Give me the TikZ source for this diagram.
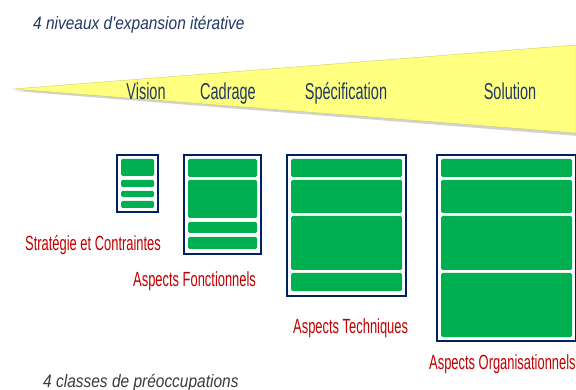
\documentclass[tikz,border=0pt]{standalone}
\usepackage{fontspec}
\setmainfont[FakeStretch=0.63]{Liberation Sans}
\newfontfamily\capfont[FakeStretch=0.86]{Liberation Sans}
\definecolor{navytxt}{HTML}{1F3864}
\definecolor{boxnavy}{HTML}{002060}
\definecolor{rowgreen}{HTML}{00B050}
\definecolor{redtxt}{HTML}{C00000}
\definecolor{wedgeyellow}{HTML}{FFFF80}
\definecolor{captioncol}{HTML}{3A3A3A}
\begin{document}
\begin{tikzpicture}[x=1pt,y=-1pt,
  lvl/.style={anchor=base,inner sep=0pt,text=navytxt,font=\fontsize{23}{23}\selectfont},
  concern/.style={anchor=base west,inner sep=0pt,text=redtxt,font=\fontsize{20.5}{20.5}\selectfont},
  captxt/.style={anchor=base west,inner sep=0pt,font=\capfont\itshape\fontsize{18}{18}\selectfont},
  frame/.style={draw=boxnavy,line width=2.6pt,fill=white},
  row/.style={fill=rowgreen,rounded corners=1.5pt}]
\useasboundingbox (0,0) rectangle (576,390);
% wedge
\fill[black!35,opacity=0.5] (15,91) -- (578,47) -- (578,136) -- cycle;
\fill[wedgeyellow,draw=wedgeyellow!80!black,line width=0.4pt] (13,89) -- (576,45) -- (576,133) -- cycle;
\node[lvl] (vision) at (146,100) {Vision};
\node[lvl] (cadrage) at (228,100) {Cadrage};
\node[lvl] (spec) at (346,100) {Spécification};
\node[lvl] (solution) at (510,100) {Solution};
\node[captxt,text=navytxt] (title) at (33,30) {4 niveaux d'expansion itérative};
\node[captxt,text=captioncol] (bottom) at (43,387) {4 classes de préoccupations};
% box 1
\draw[frame] (117,155) rectangle (158,212);
\fill[row] (121,159) rectangle (154,176);
\fill[row] (121,180) rectangle (154,187);
\fill[row] (121,191) rectangle (154,197);
\fill[row] (121,201) rectangle (154,208);
% box 2
\draw[frame] (184,155) rectangle (261,254);
\fill[row] (188,159) rectangle (257,177);
\fill[row] (188,180) rectangle (257,218);
\fill[row] (188,222) rectangle (257,233);
\fill[row] (188,237) rectangle (257,249);
% box 3
\draw[frame] (287,155) rectangle (406,296);
\fill[row] (291,159) rectangle (402,177);
\fill[row] (291,180) rectangle (402,213);
\fill[row] (291,216) rectangle (402,270);
\fill[row] (291,273) rectangle (402,291);
% box 4
\draw[frame] (437,155) rectangle (576,341);
\fill[row] (441,159) rectangle (572,177);
\fill[row] (441,180) rectangle (572,213);
\fill[row] (441,216) rectangle (572,270);
\fill[row] (441,273) rectangle (572,337);
% concern labels
\node[concern] (strat) at (25,251) {Stratégie et Contraintes};
\node[concern] (fonc) at (133,287) {Aspects Fonctionnels};
\node[concern] (tech) at (293,334) {Aspects Techniques};
\node[concern] (orga) at (429,369) {Aspects Organisationnels};
\end{tikzpicture}
\end{document}
